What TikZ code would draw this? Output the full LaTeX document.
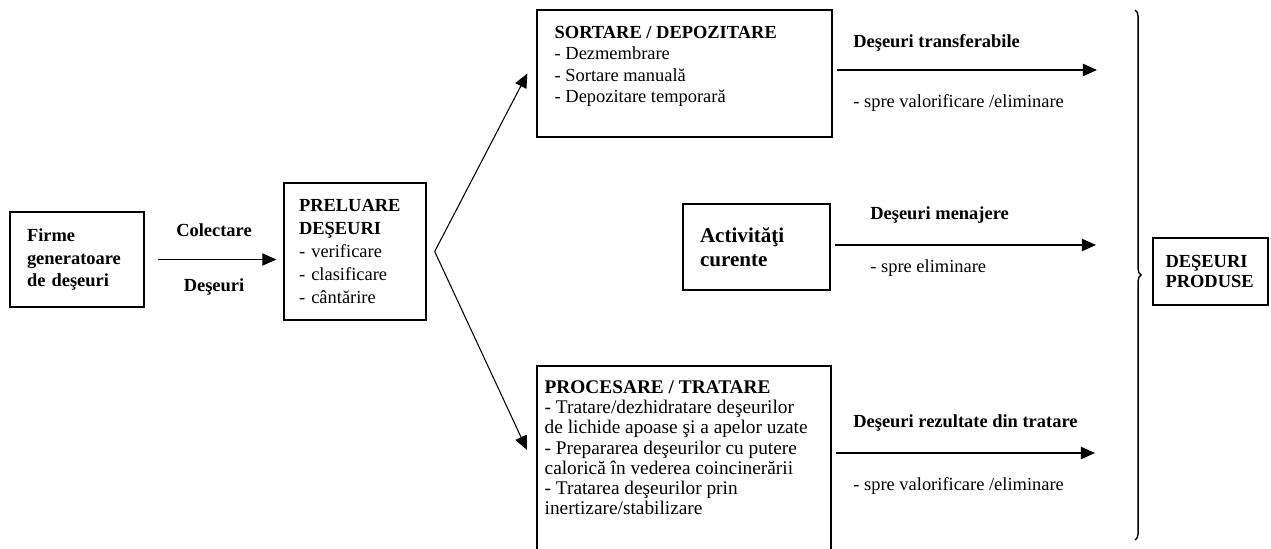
\documentclass[tikz,border=0pt]{standalone}
\usepackage{fontspec}
\setmainfont{Liberation Serif}
\usetikzlibrary{arrows.meta,decorations.pathreplacing}

\begin{document}
\begin{tikzpicture}[x=0.02cm,y=-0.02cm,
    box/.style={draw,line width=0.8pt,align=left,font=\fontsize{10.5}{13}\selectfont},
    arr/.style={line width=0.6pt,-{Triangle[length=8pt,width=7pt]}},
    lbl/.style={font=\fontsize{10.5}{12}\selectfont\bfseries,inner sep=0pt},
    note/.style={font=\fontsize{10.5}{12}\selectfont,inner sep=0pt}]

\path[use as bounding box,clip] (0,0) rectangle (1271,548);


\node[box,text width=2cm,inner xsep=0.34cm,minimum height=1.9cm,font=\fontsize{10.5}{13}\selectfont\bfseries] (firme) at (77,259.5) {Firme\\generatoare\\de deşeuri};
\node[box,text width=2.24cm,inner xsep=0.3cm,minimum height=2.74cm] (preluare) at (355,251.5) {\textbf{PRELUARE}\\\textbf{DEŞEURI}\\- verificare\\- clasificare\\- cântărire};

\node[box,minimum width=5.9cm,minimum height=2.54cm] (sortare) at (684.5,73.5) {};
\node[note,align=left,anchor=north west,font=\fontsize{10.5}{12}\selectfont] (sortaretext) at ([xshift=0.36cm,yshift=-0.34cm]sortare.north west) {\textbf{SORTARE / DEPOZITARE}\\- Dezmembrare\\- Sortare manuală\\- Depozitare temporară};

\node[box,text width=2.26cm,inner xsep=0.34cm,minimum height=1.72cm,font=\fontsize{12}{13.6}\selectfont\bfseries] (activ) at (756.5,247) {Activităţi\\curente};

\node[box,minimum width=5.88cm,minimum height=4cm] (procesare) at (684,466) {};
\node[note,align=left,anchor=north west,font=\fontsize{11}{11.5}\selectfont] (procesaretext) at ([xshift=0.16cm,yshift=-0.3cm]procesare.north west) {\textbf{PROCESARE / TRATARE}\\- Tratare/dezhidratare deşeurilor\\de lichide apoase şi a apelor uzate\\- Prepararea deşeurilor cu putere\\calorică în vederea coincinerării\\- Tratarea deşeurilor prin\\inertizare/stabilizare};

\node[box,text width=1.8cm,inner xsep=0.25cm,minimum height=1.34cm,font=\fontsize{10.5}{11.4}\selectfont\bfseries] (produse) at (1210.5,271.5) {DEŞEURI\\PRODUSE};


\coordinate (tipproc) at (527,450);
\coordinate (t1) at (1097,70);
\coordinate (t2) at (1096,245);
\coordinate (t3) at (1095,453);
\coordinate (bracetop) at (1135,10);
\coordinate (bracebot) at (1135,540);

\draw[arr,shorten <=0.26cm,shorten >=0.14cm] (firme.east) -- (firme.east -| preluare.west)
    node[lbl,midway,above=0.44cm] (colectare) {Colectare}
    node[lbl,midway,below=0.38cm] (deseuri) {Deşeuri};

\draw[arr] ([xshift=0.16cm]preluare.east) -- ([xshift=-0.18cm]sortare.west);
\draw[arr] ([xshift=0.16cm]preluare.east) -- (tipproc);

\draw[arr,shorten <=0.08cm] (sortare.east |- t1) -- (t1);
\draw[arr,shorten <=0.08cm] (activ.east |- t2) -- (t2);
\draw[arr,shorten <=0.08cm] (procesare.east |- t3) -- (t3);

\node[lbl,anchor=west] (transf) at (853,43) {Deşeuri transferabile};
\node[note,anchor=west] (transfnote) at (853,103) {- spre valorificare /eliminare};
\node[lbl,anchor=west] (menaj) at (870,215) {Deşeuri menajere};
\node[note,anchor=west] (menajnote) at (870,268) {- spre eliminare};
\node[lbl,anchor=west] (rezult) at (853,423) {Deşeuri rezultate din tratare};
\node[note,anchor=west] (rezultnote) at (853,486) {- spre valorificare /eliminare};

\draw[line width=0.8pt,decorate,decoration={brace,amplitude=3.5pt}] (bracetop) -- (bracebot);
\end{tikzpicture}
\end{document}
